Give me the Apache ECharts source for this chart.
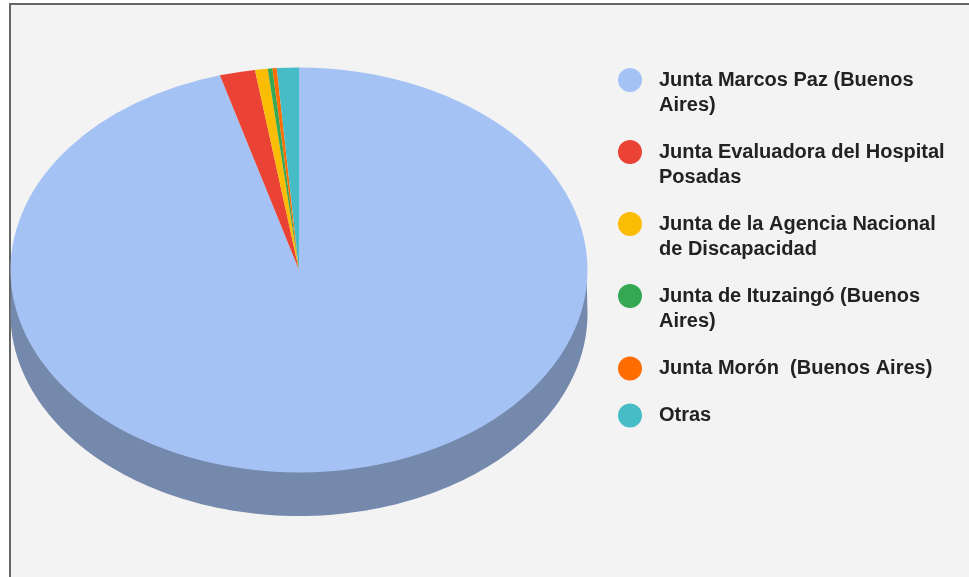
<!DOCTYPE html>
<html>
<head>
<meta charset="utf-8">
<script src="https://cdn.jsdelivr.net/npm/echarts@6/dist/echarts.min.js"></script>
<style>
  html, body { margin: 0; padding: 0; background: #fff; overflow: hidden; }
  .panel {
    position: absolute; left: 9px; top: 3px; width: 980px; height: 600px;
    background: #f3f3f3; border-left: 2px solid #666; border-top: 2px solid #666;
  }
  #chart { position: absolute; left: 0; top: 0; width: 969px; height: 577px; }
</style>
</head>
<body>
<div class="panel"></div>
<div id="chart"></div>
<script>
  // juntas evaluadoras - share of certificates
  const names = [
    'Junta Marcos Paz (Buenos Aires)',
    'Junta Evaluadora del Hospital Posadas',
    'Junta de la Agencia Nacional de Discapacidad',
    'Junta de Ituzaingó (Buenos Aires)',
    'Junta Morón  (Buenos Aires)',
    'Otras'
  ]
  const values = [9558, 198, 71, 26, 24, 123]
  const colors = ['#a4c2f4', '#ea4335', '#fbbc04', '#34a853', '#ff6d01', '#46bdc6']

  // 3d pie geometry (top face is a circle squashed vertically)
  const PIE = { cx: 299, cy: 270, rx: 288.5, ry: 202.5, depth: 43.5 }
  const LEGEND_FONT = 'bold 20px "Liberation Sans"'
  const WRAP_WIDTH = 295

  function darken(hex, k) {
    const n = parseInt(hex.slice(1), 16)
    const r = Math.round(((n >> 16) & 255) * k)
    const g = Math.round(((n >> 8) & 255) * k)
    const b = Math.round((n & 255) * k)
    return 'rgb(' + r + ',' + g + ',' + b + ')'
  }

  function renderSlice(f0, f1, color) {
    const a0 = -Math.PI / 2 + f0 * Math.PI * 2
    const a1 = -Math.PI / 2 + f1 * Math.PI * 2
    const children = []
    // side wall, only the front half (0..PI on screen) is visible
    const s = Math.max(a0, 0)
    const e = Math.min(a1, Math.PI)
    if (s < e) {
      const pts = []
      const steps = 120
      for (let k = 0; k <= steps; k++) {
        const t = s + (e - s) * k / steps
        pts.push([PIE.cx + (PIE.rx - 1) * Math.cos(t), PIE.cy + (PIE.ry - 1) * Math.sin(t)])
      }
      for (let k = steps; k >= 0; k--) {
        const t = s + (e - s) * k / steps
        pts.push([PIE.cx + PIE.rx * Math.cos(t), PIE.cy + PIE.depth + PIE.ry * Math.sin(t)])
      }
      children.push({ type: 'polygon', shape: { points: pts }, style: { fill: darken(color, 0.705) } })
    }
    children.push({
      type: 'sector',
      shape: { cx: PIE.cx, cy: PIE.cy, r: PIE.rx, r0: 0, startAngle: a0, endAngle: a1, clockwise: true },
      originX: PIE.cx,
      originY: PIE.cy,
      scaleY: PIE.ry / PIE.rx,
      style: { fill: color }
    })
    return { type: 'group', children }
  }

  const total = values.reduce((a, b) => a + b, 0)
  let acc = 0
  const series = names.map((name, i) => {
    const start = acc / total
    acc += values[i]
    const end = acc / total
    return {
      type: 'custom',
      name,
      coordinateSystem: 'none',
      silent: true,
      data: [[values[i], start, end]],
      renderItem: (params, api) => renderSlice(api.value(1), api.value(2), api.visual('color'))
    }
  })

  // which legend labels wrap onto two lines -> circle aligned with first line
  const ctx = document.createElement('canvas').getContext('2d')
  ctx.font = LEGEND_FONT
  const tallIcon = 'path://M0,12A12,12,0,1,0,24,12A12,12,0,1,0,0,12ZM0,50L0,50'
  const legendData = names.map(n => ({
    name: n,
    icon: ctx.measureText(n).width > WRAP_WIDTH ? tallIcon : 'circle'
  }))

  const myChart = echarts.init(document.getElementById('chart'))
  myChart.setOption({
    animation: false,
    color: colors,
    legend: {
      orient: 'vertical',
      left: 618,
      top: 68,
      padding: 0,
      itemGap: 22,
      itemWidth: 24,
      itemHeight: 50,
      selectedMode: false,
      itemStyle: { borderWidth: 0 },
      data: legendData,
      textStyle: {
        fontFamily: 'Liberation Sans',
        fontWeight: 'bold',
        fontSize: 20,
        lineHeight: 25,
        color: '#222',
        width: WRAP_WIDTH,
        overflow: 'break',
        padding: [0, 0, 0, 12]
      }
    },
    series
  })
</script>
</body>
</html>
